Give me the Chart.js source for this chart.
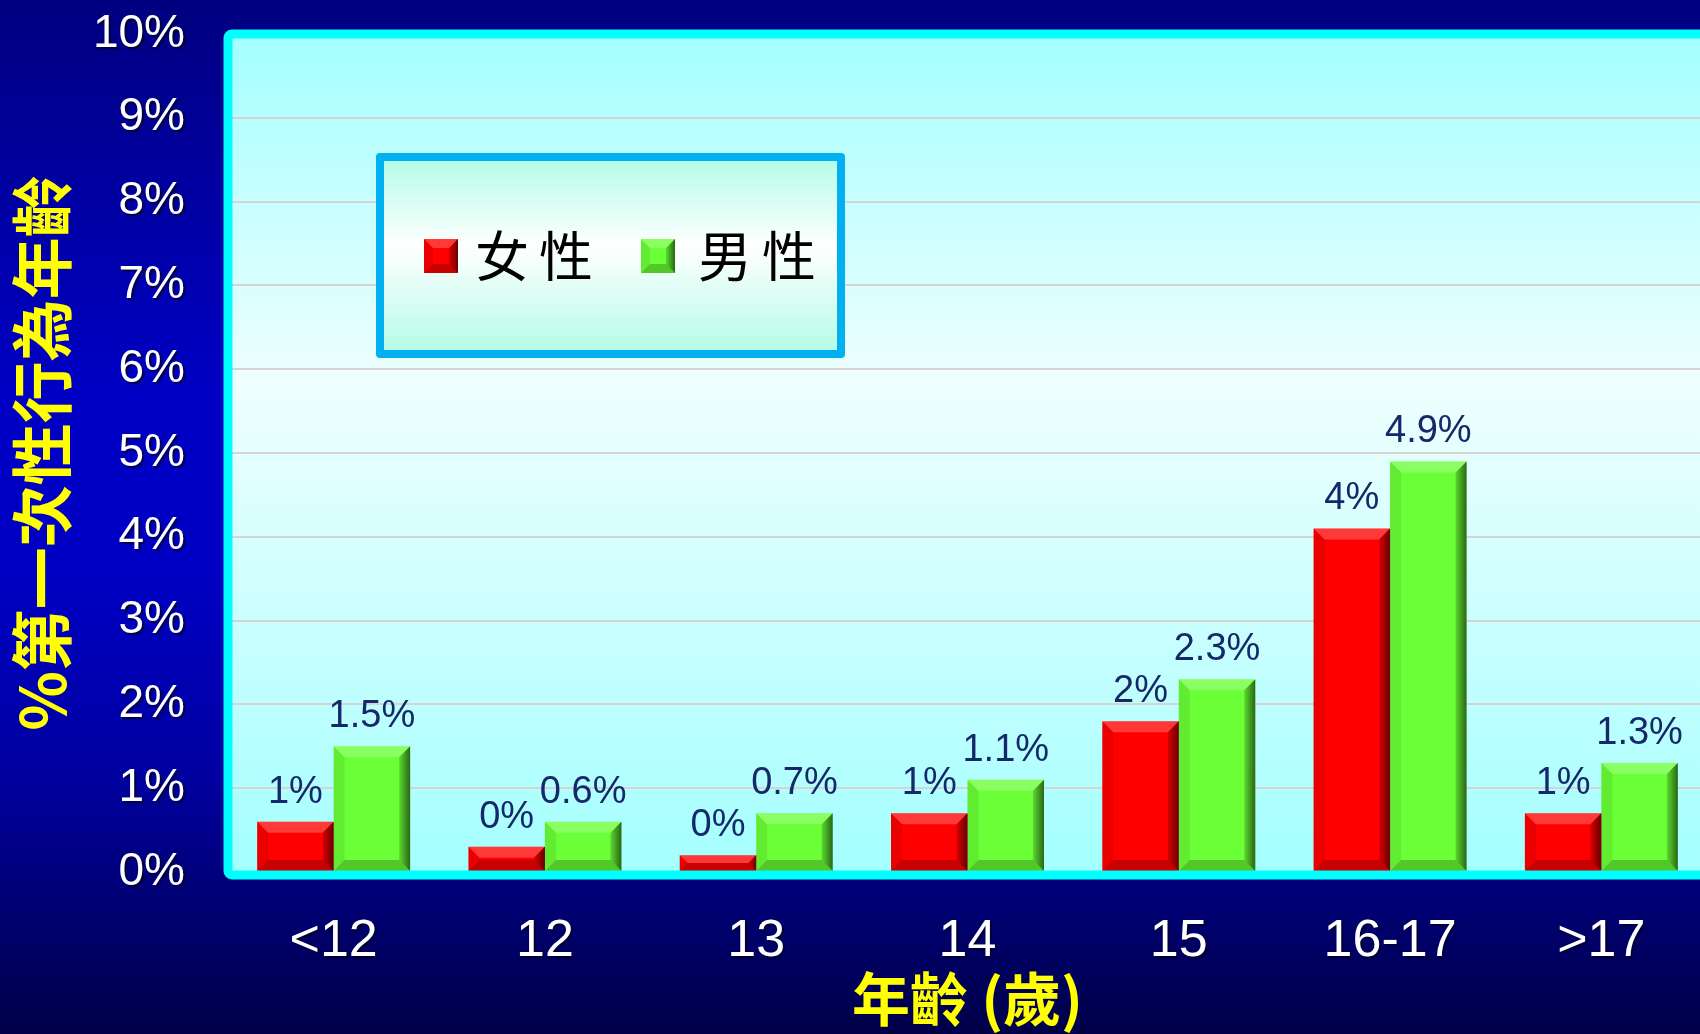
<!DOCTYPE html>
<html>
<head>
<meta charset="utf-8">
<script src="https://cdn.jsdelivr.net/npm/chart.js@4.4.0/dist/chart.umd.min.js"></script>
<style>
html, body {
    margin: 0; padding: 0; width: 1700px; height: 1034px; overflow: hidden;
    background: linear-gradient(to bottom, #000080 0%, #0000c4 38%, #0000c4 55%, #0000a0 75%, #00007c 85%, #000048 100%);
}
#wrap { position: absolute; left: 0; top: 0; width: 1712px; height: 1034px; }
</style>
</head>
<body>
<div id="wrap"><canvas id="chart" width="1712" height="1034"></canvas></div>
<script>
// datos
const categories = ['<12', '12', '13', '14', '15', '16-17', '>17'];
const femaleValues = [0.6, 0.3, 0.2, 0.7, 1.8, 4.1, 0.7];
const maleValues = [1.5, 0.6, 0.7, 1.1, 2.3, 4.9, 1.3];
const femaleLabels = ['1%', '0%', '0%', '1%', '2%', '4%', '1%'];
const maleLabels = ['1.5%', '0.6%', '0.7%', '1.1%', '2.3%', '4.9%', '1.3%'];
const yTickLabels = ['0%', '1%', '2%', '3%', '4%', '5%', '6%', '7%', '8%', '9%', '10%'];
const seriesNames = ['女性', '男性'];

const LATIN = '"Liberation Sans", Arial, sans-serif';
const CJK = '"Noto Sans CJK TC", "Noto Sans CJK SC", sans-serif';

// relieve tipo "bisel" sobre una barra
function bevel(ctx, x0, y0, x1, y1, b) {
    b = Math.min(b, (y1 - y0) / 2, (x1 - x0) / 2);
    if (b <= 0) return;
    ctx.save();
    // arriba (claro)
    ctx.fillStyle = 'rgba(255,255,255,0.22)';
    ctx.beginPath();
    ctx.moveTo(x0, y0); ctx.lineTo(x1, y0); ctx.lineTo(x1 - b, y0 + b); ctx.lineTo(x0 + b, y0 + b);
    ctx.closePath(); ctx.fill();
    // derecha (oscuro)
    const g = ctx.createLinearGradient(x1 - b, 0, x1, 0);
    g.addColorStop(0, 'rgba(0,0,0,0.15)');
    g.addColorStop(1, 'rgba(0,0,0,0.6)');
    ctx.fillStyle = g;
    ctx.beginPath();
    ctx.moveTo(x1, y0); ctx.lineTo(x1, y1); ctx.lineTo(x1 - b, y1 - b); ctx.lineTo(x1 - b, y0 + b);
    ctx.closePath(); ctx.fill();
    // abajo
    ctx.fillStyle = 'rgba(0,0,0,0.22)';
    ctx.beginPath();
    ctx.moveTo(x0, y1); ctx.lineTo(x1, y1); ctx.lineTo(x1 - b, y1 - b); ctx.lineTo(x0 + b, y1 - b);
    ctx.closePath(); ctx.fill();
    // izquierda
    ctx.fillStyle = 'rgba(0,0,0,0.08)';
    ctx.beginPath();
    ctx.moveTo(x0, y0); ctx.lineTo(x0, y1); ctx.lineTo(x0 + b, y1 - b); ctx.lineTo(x0 + b, y0 + b);
    ctx.closePath(); ctx.fill();
    ctx.restore();
}

const deco = {
    id: 'deco',
    beforeDraw(chart) {
        const { ctx, chartArea: a } = chart;
        const g = ctx.createLinearGradient(0, a.top, 0, a.bottom);
        g.addColorStop(0, '#a4ffff');
        g.addColorStop(0.42, '#eefffe');
        g.addColorStop(1, '#a4ffff');
        ctx.save();
        ctx.fillStyle = g;
        ctx.fillRect(a.left, a.top, a.right - a.left, a.bottom - a.top);
        ctx.restore();
    },
    afterDatasetsDraw(chart) {
        const { ctx, chartArea: a } = chart;
        // bisel de las barras
        chart.data.datasets.forEach((ds, i) => {
            chart.getDatasetMeta(i).data.forEach(bar => {
                const p = bar.getProps(['x', 'y', 'base', 'width'], true);
                bevel(ctx, p.x - p.width / 2, p.y, p.x + p.width / 2, p.base, 11);
            });
        });
        // marco cian
        ctx.save();
        ctx.strokeStyle = '#00ffff';
        ctx.lineWidth = 9;
        ctx.lineJoin = 'round';
        ctx.beginPath();
        ctx.roundRect(a.left, a.top, a.right - a.left, a.bottom - a.top + 3, 4);
        ctx.stroke();
        ctx.restore();
        // etiquetas de valores
        const texts = [femaleLabels, maleLabels];
        ctx.save();
        ctx.font = '38px ' + LATIN;
        ctx.fillStyle = '#15296a';
        ctx.textAlign = 'center';
        ctx.textBaseline = 'alphabetic';
        chart.data.datasets.forEach((ds, i) => {
            chart.getDatasetMeta(i).data.forEach((bar, j) => {
                const p = bar.getProps(['x', 'y'], true);
                ctx.fillText(texts[i][j], p.x, p.y - 19);
            });
        });
        ctx.restore();
        // sombra para los textos de los ejes (z = 1)
        ctx.shadowColor = 'rgba(0,0,40,0.8)';
        ctx.shadowOffsetX = 2;
        ctx.shadowOffsetY = 2;
        ctx.shadowBlur = 2;
    },
    afterDraw(chart) {
        const { ctx } = chart;
        ctx.shadowColor = 'rgba(0,0,0,0)';
        ctx.shadowOffsetX = 0;
        ctx.shadowOffsetY = 0;
        ctx.shadowBlur = 0;
        // leyenda
        const bx = 380, by = 157, bw = 461, bh = 197;
        ctx.save();
        const g = ctx.createLinearGradient(0, by, 0, by + bh);
        g.addColorStop(0, '#b2fce6');
        g.addColorStop(0.45, '#ffffff');
        g.addColorStop(1, '#b2fce6');
        ctx.fillStyle = g;
        ctx.fillRect(bx, by, bw, bh);
        ctx.strokeStyle = '#00b0f0';
        ctx.lineWidth = 8;
        ctx.lineJoin = 'round';
        ctx.strokeRect(bx, by, bw, bh);
        const itemX = [424, 641];
        const textX = [475, 698];
        ctx.font = '54px ' + CJK;
        ctx.fillStyle = '#000';
        ctx.textBaseline = 'middle';
        ctx.letterSpacing = '10px';
        chart.data.datasets.forEach((ds, i) => {
            ctx.fillStyle = ds.backgroundColor;
            ctx.fillRect(itemX[i], 239, 34, 34);
            bevel(ctx, itemX[i], 239, itemX[i] + 34, 273, 9);
            ctx.fillStyle = '#000';
            ctx.fillText(ds.label, textX[i], 256);
        });
        ctx.restore();
    }
};

new Chart(document.getElementById('chart'), {
    type: 'bar',
    data: {
        labels: categories,
        datasets: [
            { label: seriesNames[0], data: femaleValues, backgroundColor: '#ff0000', borderWidth: 0,
              categoryPercentage: 0.724, barPercentage: 1.0 },
            { label: seriesNames[1], data: maleValues, backgroundColor: '#6aff36', borderWidth: 0,
              categoryPercentage: 0.724, barPercentage: 1.0 }
        ]
    },
    options: {
        responsive: false,
        animation: false,
        devicePixelRatio: 1,
        layout: { padding: { left: 0, right: 5, top: 34, bottom: 0 } },
        plugins: { legend: { display: false }, tooltip: { enabled: false } },
        scales: {
            x: {
                grid: { display: false, drawTicks: false },
                border: { display: false },
                ticks: {
                    z: 1, color: '#ffffff', padding: 38, maxRotation: 0, autoSkip: false,
                    font: { family: LATIN, size: 52 }
                },
                title: {
                    display: true, text: '年齡 (歲)', color: '#ffff00',
                    font: { family: CJK, size: 58, weight: 'bold', lineHeight: 1.2 },
                    padding: { top: 0, bottom: 0 }
                },
                afterFit: s => { s.height = 162; s.paddingLeft = 0; s.paddingRight = 0; }
            },
            y: {
                min: 0, max: 10,
                grid: { color: '#d8d2d2', lineWidth: 2, drawTicks: false },
                border: { display: false },
                ticks: {
                    z: 1, stepSize: 1, color: '#ffffff', padding: 43,
                    font: { family: LATIN, size: 46 },
                    callback: (v, i) => yTickLabels[i]
                },
                title: {
                    display: true, text: '%第一次性行為年齡', color: '#ffff00',
                    font: { family: CJK, size: 62, weight: 'bold', lineHeight: 1.2 },
                    padding: { top: 5, bottom: 0 }
                },
                afterFit: s => { s.width = 228; s.paddingTop = 0; s.paddingBottom = 0; }
            }
        }
    },
    plugins: [deco]
});
</script>
</body>
</html>
